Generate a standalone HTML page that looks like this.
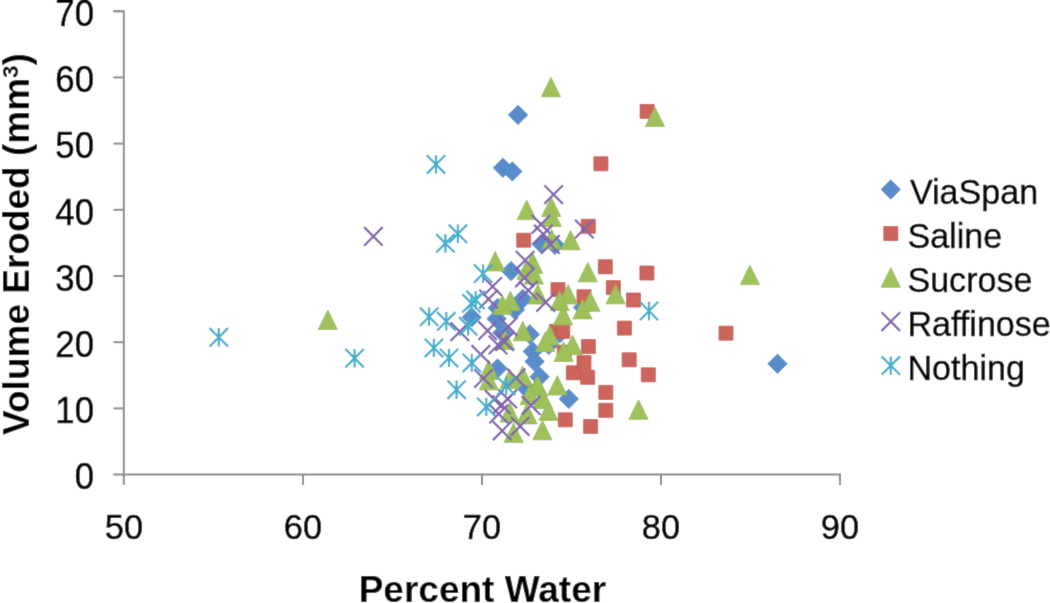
<!DOCTYPE html>
<html><head><meta charset="utf-8"><style>
html,body{margin:0;padding:0;background:#fff;}
svg{display:block;font-family:"Liberation Sans",sans-serif;}
</style></head><body>
<svg width="1050" height="603" viewBox="0 0 1050 603">
<defs><filter id="bl" x="0" y="0" width="1050" height="603" filterUnits="userSpaceOnUse"><feConvolveMatrix order="3" kernelMatrix="0.01134 0.08382 0.01134 0.08382 0.61936 0.08382 0.01134 0.08382 0.01134" edgeMode="duplicate"/></filter></defs>
<g filter="url(#bl)">
<rect width="1050" height="603" fill="#fff"/>

<g stroke="#8c8c8c" stroke-width="2" fill="none">
<path d="M113.4 11.2H123.8V485M113.4 474.6H840V485"/>
<path d="M113.4 408.4H124"/>
<path d="M113.4 342.2H124"/>
<path d="M113.4 276.0H124"/>
<path d="M113.4 209.8H124"/>
<path d="M113.4 143.6H124"/>
<path d="M113.4 77.4H124"/>
<path d="M113.4 11.2H124"/>
<path d="M303.0 474.6V485"/>
<path d="M482.0 474.6V485"/>
<path d="M661.0 474.6V485"/>
<path d="M840.0 474.6V485"/>
</g>
<g font-size="34.8" fill="#000" stroke="#000" stroke-width="0.5" text-anchor="end">
<text transform="translate(94,489.3) scale(1,1.045)">0</text>
<text transform="translate(94,423.1) scale(1,1.045)">10</text>
<text transform="translate(94,356.9) scale(1,1.045)">20</text>
<text transform="translate(94,290.7) scale(1,1.045)">30</text>
<text transform="translate(94,224.5) scale(1,1.045)">40</text>
<text transform="translate(94,158.3) scale(1,1.045)">50</text>
<text transform="translate(94,92.1) scale(1,1.045)">60</text>
<text transform="translate(94,25.9) scale(1,1.045)">70</text>
</g>
<g font-size="34.4" fill="#000" stroke="#000" stroke-width="0.5" text-anchor="middle">
<text transform="translate(124.0,539) scale(1,1.045)">50</text>
<text transform="translate(303.0,539) scale(1,1.045)">60</text>
<text transform="translate(482.0,539) scale(1,1.045)">70</text>
<text transform="translate(661.0,539) scale(1,1.045)">80</text>
<text transform="translate(840.0,539) scale(1,1.045)">90</text>
</g>
<text x="482.4" y="602" font-size="37" font-weight="bold" text-anchor="middle">Percent Water</text>
<text transform="translate(29,244) rotate(-90)" font-size="37" font-weight="bold" text-anchor="middle">Volume Eroded (mm<tspan font-size="22.5" dy="-11.5">3</tspan><tspan dy="11.5">)</tspan></text>
<path d="M518.0 105.2L527.7 114.9L518.0 124.6L508.3 114.9Z" fill="#588dca" stroke="#4a80c0" stroke-width="0.8" stroke-linejoin="round"/>
<path d="M502.9 158.0L512.6 167.7L502.9 177.4L493.2 167.7Z" fill="#588dca" stroke="#4a80c0" stroke-width="0.8" stroke-linejoin="round"/>
<path d="M512.3 161.7L522.0 171.4L512.3 181.1L502.6 171.4Z" fill="#588dca" stroke="#4a80c0" stroke-width="0.8" stroke-linejoin="round"/>
<path d="M511.1 261.4L520.8 271.1L511.1 280.8L501.4 271.1Z" fill="#588dca" stroke="#4a80c0" stroke-width="0.8" stroke-linejoin="round"/>
<path d="M541.4 234.2L551.1 243.9L541.4 253.6L531.7 243.9Z" fill="#588dca" stroke="#4a80c0" stroke-width="0.8" stroke-linejoin="round"/>
<path d="M554.9 235.2L564.6 244.9L554.9 254.6L545.2 244.9Z" fill="#588dca" stroke="#4a80c0" stroke-width="0.8" stroke-linejoin="round"/>
<path d="M777.5 354.1L787.2 363.8L777.5 373.5L767.8 363.8Z" fill="#588dca" stroke="#4a80c0" stroke-width="0.8" stroke-linejoin="round"/>
<path d="M471.7 307.6L481.4 317.3L471.7 327.0L462.0 317.3Z" fill="#588dca" stroke="#4a80c0" stroke-width="0.8" stroke-linejoin="round"/>
<path d="M496.6 309.1L506.3 318.8L496.6 328.5L486.9 318.8Z" fill="#588dca" stroke="#4a80c0" stroke-width="0.8" stroke-linejoin="round"/>
<path d="M497.6 298.2L507.3 307.9L497.6 317.6L487.9 307.9Z" fill="#588dca" stroke="#4a80c0" stroke-width="0.8" stroke-linejoin="round"/>
<path d="M502.5 323.0L512.2 332.7L502.5 342.4L492.8 332.7Z" fill="#588dca" stroke="#4a80c0" stroke-width="0.8" stroke-linejoin="round"/>
<path d="M522.8 289.2L532.5 298.9L522.8 308.6L513.1 298.9Z" fill="#588dca" stroke="#4a80c0" stroke-width="0.8" stroke-linejoin="round"/>
<path d="M514.9 300.1L524.6 309.8L514.9 319.5L505.2 309.8Z" fill="#588dca" stroke="#4a80c0" stroke-width="0.8" stroke-linejoin="round"/>
<path d="M529.8 324.7L539.5 334.4L529.8 344.1L520.1 334.4Z" fill="#588dca" stroke="#4a80c0" stroke-width="0.8" stroke-linejoin="round"/>
<path d="M532.8 341.8L542.5 351.5L532.8 361.2L523.1 351.5Z" fill="#588dca" stroke="#4a80c0" stroke-width="0.8" stroke-linejoin="round"/>
<path d="M534.6 351.8L544.3 361.5L534.6 371.2L524.9 361.5Z" fill="#588dca" stroke="#4a80c0" stroke-width="0.8" stroke-linejoin="round"/>
<path d="M548.8 335.2L558.5 344.9L548.8 354.6L539.1 344.9Z" fill="#588dca" stroke="#4a80c0" stroke-width="0.8" stroke-linejoin="round"/>
<path d="M559.8 323.5L569.5 333.2L559.8 342.9L550.1 333.2Z" fill="#588dca" stroke="#4a80c0" stroke-width="0.8" stroke-linejoin="round"/>
<path d="M497.5 358.8L507.2 368.5L497.5 378.2L487.8 368.5Z" fill="#588dca" stroke="#4a80c0" stroke-width="0.8" stroke-linejoin="round"/>
<path d="M539.6 367.1L549.3 376.8L539.6 386.5L529.9 376.8Z" fill="#588dca" stroke="#4a80c0" stroke-width="0.8" stroke-linejoin="round"/>
<path d="M527.0 379.3L536.7 389.0L527.0 398.7L517.3 389.0Z" fill="#588dca" stroke="#4a80c0" stroke-width="0.8" stroke-linejoin="round"/>
<path d="M583.0 297.8L592.7 307.5L583.0 317.2L573.3 307.5Z" fill="#588dca" stroke="#4a80c0" stroke-width="0.8" stroke-linejoin="round"/>
<path d="M568.8 389.2L578.5 398.9L568.8 408.6L559.1 398.9Z" fill="#588dca" stroke="#4a80c0" stroke-width="0.8" stroke-linejoin="round"/>
<rect x="640.1" y="104.4" width="14.0" height="14.0" fill="#cc655c" stroke="#c4554f" stroke-width="0.8" stroke-linejoin="round"/>
<rect x="593.9" y="156.8" width="14.0" height="14.0" fill="#cc655c" stroke="#c4554f" stroke-width="0.8" stroke-linejoin="round"/>
<rect x="516.7" y="233.2" width="14.0" height="14.0" fill="#cc655c" stroke="#c4554f" stroke-width="0.8" stroke-linejoin="round"/>
<rect x="581.3" y="219.3" width="14.0" height="14.0" fill="#cc655c" stroke="#c4554f" stroke-width="0.8" stroke-linejoin="round"/>
<rect x="598.3" y="259.8" width="14.0" height="14.0" fill="#cc655c" stroke="#c4554f" stroke-width="0.8" stroke-linejoin="round"/>
<rect x="719.0" y="326.2" width="14.0" height="14.0" fill="#cc655c" stroke="#c4554f" stroke-width="0.8" stroke-linejoin="round"/>
<rect x="551.0" y="282.6" width="14.0" height="14.0" fill="#cc655c" stroke="#c4554f" stroke-width="0.8" stroke-linejoin="round"/>
<rect x="577.0" y="289.7" width="14.0" height="14.0" fill="#cc655c" stroke="#c4554f" stroke-width="0.8" stroke-linejoin="round"/>
<rect x="549.4" y="324.3" width="14.0" height="14.0" fill="#cc655c" stroke="#c4554f" stroke-width="0.8" stroke-linejoin="round"/>
<rect x="555.8" y="324.3" width="14.0" height="14.0" fill="#cc655c" stroke="#c4554f" stroke-width="0.8" stroke-linejoin="round"/>
<rect x="639.9" y="266.0" width="14.0" height="14.0" fill="#cc655c" stroke="#c4554f" stroke-width="0.8" stroke-linejoin="round"/>
<rect x="606.3" y="280.6" width="14.0" height="14.0" fill="#cc655c" stroke="#c4554f" stroke-width="0.8" stroke-linejoin="round"/>
<rect x="626.5" y="293.0" width="14.0" height="14.0" fill="#cc655c" stroke="#c4554f" stroke-width="0.8" stroke-linejoin="round"/>
<rect x="617.4" y="321.1" width="14.0" height="14.0" fill="#cc655c" stroke="#c4554f" stroke-width="0.8" stroke-linejoin="round"/>
<rect x="581.4" y="339.5" width="14.0" height="14.0" fill="#cc655c" stroke="#c4554f" stroke-width="0.8" stroke-linejoin="round"/>
<rect x="566.4" y="365.8" width="14.0" height="14.0" fill="#cc655c" stroke="#c4554f" stroke-width="0.8" stroke-linejoin="round"/>
<rect x="580.7" y="370.3" width="14.0" height="14.0" fill="#cc655c" stroke="#c4554f" stroke-width="0.8" stroke-linejoin="round"/>
<rect x="557.2" y="345.3" width="14.0" height="14.0" fill="#cc655c" stroke="#c4554f" stroke-width="0.8" stroke-linejoin="round"/>
<rect x="577.0" y="355.6" width="14.0" height="14.0" fill="#cc655c" stroke="#c4554f" stroke-width="0.8" stroke-linejoin="round"/>
<rect x="622.2" y="352.8" width="14.0" height="14.0" fill="#cc655c" stroke="#c4554f" stroke-width="0.8" stroke-linejoin="round"/>
<rect x="641.3" y="367.8" width="14.0" height="14.0" fill="#cc655c" stroke="#c4554f" stroke-width="0.8" stroke-linejoin="round"/>
<rect x="598.8" y="385.4" width="14.0" height="14.0" fill="#cc655c" stroke="#c4554f" stroke-width="0.8" stroke-linejoin="round"/>
<rect x="598.8" y="403.3" width="14.0" height="14.0" fill="#cc655c" stroke="#c4554f" stroke-width="0.8" stroke-linejoin="round"/>
<rect x="558.3" y="412.8" width="14.0" height="14.0" fill="#cc655c" stroke="#c4554f" stroke-width="0.8" stroke-linejoin="round"/>
<rect x="583.6" y="419.5" width="14.0" height="14.0" fill="#cc655c" stroke="#c4554f" stroke-width="0.8" stroke-linejoin="round"/>
<path d="M550.9 77.3L560.5 96.7L541.3 96.7Z" fill="#9fc15c" stroke="#93b74f" stroke-width="0.8" stroke-linejoin="round"/>
<path d="M654.9 107.1L664.5 126.5L645.3 126.5Z" fill="#9fc15c" stroke="#93b74f" stroke-width="0.8" stroke-linejoin="round"/>
<path d="M327.8 310.1L337.4 329.5L318.2 329.5Z" fill="#9fc15c" stroke="#93b74f" stroke-width="0.8" stroke-linejoin="round"/>
<path d="M526.7 200.2L536.3 219.6L517.1 219.6Z" fill="#9fc15c" stroke="#93b74f" stroke-width="0.8" stroke-linejoin="round"/>
<path d="M551.2 197.1L560.8 216.5L541.6 216.5Z" fill="#9fc15c" stroke="#93b74f" stroke-width="0.8" stroke-linejoin="round"/>
<path d="M551.7 207.0L561.3 226.4L542.1 226.4Z" fill="#9fc15c" stroke="#93b74f" stroke-width="0.8" stroke-linejoin="round"/>
<path d="M551.5 229.4L561.1 248.8L541.9 248.8Z" fill="#9fc15c" stroke="#93b74f" stroke-width="0.8" stroke-linejoin="round"/>
<path d="M570.6 230.4L580.2 249.8L561.0 249.8Z" fill="#9fc15c" stroke="#93b74f" stroke-width="0.8" stroke-linejoin="round"/>
<path d="M495.2 251.5L504.8 270.9L485.6 270.9Z" fill="#9fc15c" stroke="#93b74f" stroke-width="0.8" stroke-linejoin="round"/>
<path d="M533.0 254.0L542.6 273.4L523.4 273.4Z" fill="#9fc15c" stroke="#93b74f" stroke-width="0.8" stroke-linejoin="round"/>
<path d="M526.6 260.0L536.2 279.4L517.0 279.4Z" fill="#9fc15c" stroke="#93b74f" stroke-width="0.8" stroke-linejoin="round"/>
<path d="M587.8 262.4L597.4 281.8L578.2 281.8Z" fill="#9fc15c" stroke="#93b74f" stroke-width="0.8" stroke-linejoin="round"/>
<path d="M532.5 253.0L542.1 272.4L522.9 272.4Z" fill="#9fc15c" stroke="#93b74f" stroke-width="0.8" stroke-linejoin="round"/>
<path d="M749.9 265.2L759.5 284.6L740.3 284.6Z" fill="#9fc15c" stroke="#93b74f" stroke-width="0.8" stroke-linejoin="round"/>
<path d="M510.4 291.2L520.0 310.6L500.8 310.6Z" fill="#9fc15c" stroke="#93b74f" stroke-width="0.8" stroke-linejoin="round"/>
<path d="M502.4 295.0L512.0 314.4L492.8 314.4Z" fill="#9fc15c" stroke="#93b74f" stroke-width="0.8" stroke-linejoin="round"/>
<path d="M537.8 284.6L547.4 304.0L528.2 304.0Z" fill="#9fc15c" stroke="#93b74f" stroke-width="0.8" stroke-linejoin="round"/>
<path d="M533.8 264.7L543.4 284.1L524.2 284.1Z" fill="#9fc15c" stroke="#93b74f" stroke-width="0.8" stroke-linejoin="round"/>
<path d="M568.1 284.6L577.7 304.0L558.5 304.0Z" fill="#9fc15c" stroke="#93b74f" stroke-width="0.8" stroke-linejoin="round"/>
<path d="M559.7 291.0L569.3 310.4L550.1 310.4Z" fill="#9fc15c" stroke="#93b74f" stroke-width="0.8" stroke-linejoin="round"/>
<path d="M563.1 305.5L572.7 324.9L553.5 324.9Z" fill="#9fc15c" stroke="#93b74f" stroke-width="0.8" stroke-linejoin="round"/>
<path d="M582.5 299.5L592.1 318.9L572.9 318.9Z" fill="#9fc15c" stroke="#93b74f" stroke-width="0.8" stroke-linejoin="round"/>
<path d="M522.8 321.4L532.4 340.8L513.2 340.8Z" fill="#9fc15c" stroke="#93b74f" stroke-width="0.8" stroke-linejoin="round"/>
<path d="M615.6 284.4L625.2 303.8L606.0 303.8Z" fill="#9fc15c" stroke="#93b74f" stroke-width="0.8" stroke-linejoin="round"/>
<path d="M590.4 291.9L600.0 311.3L580.8 311.3Z" fill="#9fc15c" stroke="#93b74f" stroke-width="0.8" stroke-linejoin="round"/>
<path d="M549.7 325.6L559.3 345.0L540.1 345.0Z" fill="#9fc15c" stroke="#93b74f" stroke-width="0.8" stroke-linejoin="round"/>
<path d="M545.2 332.1L554.8 351.5L535.6 351.5Z" fill="#9fc15c" stroke="#93b74f" stroke-width="0.8" stroke-linejoin="round"/>
<path d="M572.6 335.1L582.2 354.5L563.0 354.5Z" fill="#9fc15c" stroke="#93b74f" stroke-width="0.8" stroke-linejoin="round"/>
<path d="M563.6 342.0L573.2 361.4L554.0 361.4Z" fill="#9fc15c" stroke="#93b74f" stroke-width="0.8" stroke-linejoin="round"/>
<path d="M504.9 330.1L514.5 349.5L495.3 349.5Z" fill="#9fc15c" stroke="#93b74f" stroke-width="0.8" stroke-linejoin="round"/>
<path d="M522.6 366.0L532.2 385.4L513.0 385.4Z" fill="#9fc15c" stroke="#93b74f" stroke-width="0.8" stroke-linejoin="round"/>
<path d="M509.7 369.0L519.3 388.4L500.1 388.4Z" fill="#9fc15c" stroke="#93b74f" stroke-width="0.8" stroke-linejoin="round"/>
<path d="M488.8 360.0L498.4 379.4L479.2 379.4Z" fill="#9fc15c" stroke="#93b74f" stroke-width="0.8" stroke-linejoin="round"/>
<path d="M488.8 370.5L498.4 389.9L479.2 389.9Z" fill="#9fc15c" stroke="#93b74f" stroke-width="0.8" stroke-linejoin="round"/>
<path d="M536.5 376.9L546.1 396.3L526.9 396.3Z" fill="#9fc15c" stroke="#93b74f" stroke-width="0.8" stroke-linejoin="round"/>
<path d="M557.3 375.6L566.9 395.0L547.7 395.0Z" fill="#9fc15c" stroke="#93b74f" stroke-width="0.8" stroke-linejoin="round"/>
<path d="M537.9 376.6L547.5 396.0L528.3 396.0Z" fill="#9fc15c" stroke="#93b74f" stroke-width="0.8" stroke-linejoin="round"/>
<path d="M542.9 389.1L552.5 408.5L533.3 408.5Z" fill="#9fc15c" stroke="#93b74f" stroke-width="0.8" stroke-linejoin="round"/>
<path d="M548.4 401.0L558.0 420.4L538.8 420.4Z" fill="#9fc15c" stroke="#93b74f" stroke-width="0.8" stroke-linejoin="round"/>
<path d="M542.4 420.4L552.0 439.8L532.8 439.8Z" fill="#9fc15c" stroke="#93b74f" stroke-width="0.8" stroke-linejoin="round"/>
<path d="M527.5 404.5L537.1 423.9L517.9 423.9Z" fill="#9fc15c" stroke="#93b74f" stroke-width="0.8" stroke-linejoin="round"/>
<path d="M509.7 402.6L519.3 422.0L500.1 422.0Z" fill="#9fc15c" stroke="#93b74f" stroke-width="0.8" stroke-linejoin="round"/>
<path d="M513.6 423.0L523.2 442.4L504.0 442.4Z" fill="#9fc15c" stroke="#93b74f" stroke-width="0.8" stroke-linejoin="round"/>
<path d="M526.6 404.1L536.2 423.5L517.0 423.5Z" fill="#9fc15c" stroke="#93b74f" stroke-width="0.8" stroke-linejoin="round"/>
<path d="M529.6 385.2L539.2 404.6L520.0 404.6Z" fill="#9fc15c" stroke="#93b74f" stroke-width="0.8" stroke-linejoin="round"/>
<path d="M638.5 399.9L648.1 419.3L628.9 419.3Z" fill="#9fc15c" stroke="#93b74f" stroke-width="0.8" stroke-linejoin="round"/>
<path d="M364.1 227.1L382.7 245.7M382.7 227.1L364.1 245.7" stroke="#8262b0" stroke-width="2.2" fill="none"/>
<path d="M544.3 185.3L562.9 203.9M562.9 185.3L544.3 203.9" stroke="#8262b0" stroke-width="2.2" fill="none"/>
<path d="M531.7 215.0L550.3 233.6M550.3 215.0L531.7 233.6" stroke="#8262b0" stroke-width="2.2" fill="none"/>
<path d="M534.1 224.9L552.7 243.5M552.7 224.9L534.1 243.5" stroke="#8262b0" stroke-width="2.2" fill="none"/>
<path d="M541.1 235.1L559.7 253.7M559.7 235.1L541.1 253.7" stroke="#8262b0" stroke-width="2.2" fill="none"/>
<path d="M575.0 219.7L593.6 238.3M593.6 219.7L575.0 238.3" stroke="#8262b0" stroke-width="2.2" fill="none"/>
<path d="M515.8 251.0L534.4 269.6M534.4 251.0L515.8 269.6" stroke="#8262b0" stroke-width="2.2" fill="none"/>
<path d="M515.3 268.5L533.9 287.1M533.9 268.5L515.3 287.1" stroke="#8262b0" stroke-width="2.2" fill="none"/>
<path d="M483.3 277.2L501.9 295.8M501.9 277.2L483.3 295.8" stroke="#8262b0" stroke-width="2.2" fill="none"/>
<path d="M479.3 289.8L497.9 308.4M497.9 289.8L479.3 308.4" stroke="#8262b0" stroke-width="2.2" fill="none"/>
<path d="M450.5 322.4L469.1 341.0M469.1 322.4L450.5 341.0" stroke="#8262b0" stroke-width="2.2" fill="none"/>
<path d="M478.3 321.4L496.9 340.0M496.9 321.4L478.3 340.0" stroke="#8262b0" stroke-width="2.2" fill="none"/>
<path d="M498.9 317.3L517.5 335.9M517.5 317.3L498.9 335.9" stroke="#8262b0" stroke-width="2.2" fill="none"/>
<path d="M519.0 281.1L537.6 299.7M537.6 281.1L519.0 299.7" stroke="#8262b0" stroke-width="2.2" fill="none"/>
<path d="M536.4 293.0L555.0 311.6M555.0 293.0L536.4 311.6" stroke="#8262b0" stroke-width="2.2" fill="none"/>
<path d="M495.3 332.3L513.9 350.9M513.9 332.3L495.3 350.9" stroke="#8262b0" stroke-width="2.2" fill="none"/>
<path d="M471.5 345.1L490.1 363.7M490.1 345.1L471.5 363.7" stroke="#8262b0" stroke-width="2.2" fill="none"/>
<path d="M488.7 335.7L507.3 354.3M507.3 335.7L488.7 354.3" stroke="#8262b0" stroke-width="2.2" fill="none"/>
<path d="M474.2 369.2L492.8 387.8M492.8 369.2L474.2 387.8" stroke="#8262b0" stroke-width="2.2" fill="none"/>
<path d="M506.8 368.5L525.4 387.1M525.4 368.5L506.8 387.1" stroke="#8262b0" stroke-width="2.2" fill="none"/>
<path d="M484.9 390.1L503.5 408.7M503.5 390.1L484.9 408.7" stroke="#8262b0" stroke-width="2.2" fill="none"/>
<path d="M492.4 395.6L511.0 414.2M511.0 395.6L492.4 414.2" stroke="#8262b0" stroke-width="2.2" fill="none"/>
<path d="M489.4 404.6L508.0 423.2M508.0 404.6L489.4 423.2" stroke="#8262b0" stroke-width="2.2" fill="none"/>
<path d="M492.9 421.5L511.5 440.1M511.5 421.5L492.9 440.1" stroke="#8262b0" stroke-width="2.2" fill="none"/>
<path d="M510.8 417.0L529.4 435.6M529.4 417.0L510.8 435.6" stroke="#8262b0" stroke-width="2.2" fill="none"/>
<path d="M521.7 396.1L540.3 414.7M540.3 396.1L521.7 414.7" stroke="#8262b0" stroke-width="2.2" fill="none"/>
<path d="M498.4 389.6L517.0 408.2M517.0 389.6L498.4 408.2" stroke="#8262b0" stroke-width="2.2" fill="none"/>
<path d="M209.6 328.1L228.0 346.5M228.0 328.1L209.6 346.5M218.8 328.1L218.8 346.5" stroke="#42afcf" stroke-width="2.2" fill="none"/>
<path d="M345.4 349.0L363.8 367.4M363.8 349.0L345.4 367.4M354.6 349.0L354.6 367.4" stroke="#42afcf" stroke-width="2.2" fill="none"/>
<path d="M426.8 155.2L445.2 173.6M445.2 155.2L426.8 173.6M436.0 155.2L436.0 173.6" stroke="#42afcf" stroke-width="2.2" fill="none"/>
<path d="M436.2 234.1L454.6 252.5M454.6 234.1L436.2 252.5M445.4 234.1L445.4 252.5" stroke="#42afcf" stroke-width="2.2" fill="none"/>
<path d="M448.7 224.6L467.1 243.0M467.1 224.6L448.7 243.0M457.9 224.6L457.9 243.0" stroke="#42afcf" stroke-width="2.2" fill="none"/>
<path d="M473.9 264.4L492.3 282.8M492.3 264.4L473.9 282.8M483.1 264.4L483.1 282.8" stroke="#42afcf" stroke-width="2.2" fill="none"/>
<path d="M419.9 307.6L438.3 326.0M438.3 307.6L419.9 326.0M429.1 307.6L429.1 326.0" stroke="#42afcf" stroke-width="2.2" fill="none"/>
<path d="M437.1 312.1L455.5 330.5M455.5 312.1L437.1 330.5M446.3 312.1L446.3 330.5" stroke="#42afcf" stroke-width="2.2" fill="none"/>
<path d="M462.3 294.1L480.7 312.5M480.7 294.1L462.3 312.5M471.5 294.1L471.5 312.5" stroke="#42afcf" stroke-width="2.2" fill="none"/>
<path d="M466.5 290.9L484.9 309.3M484.9 290.9L466.5 309.3M475.7 290.9L475.7 309.3" stroke="#42afcf" stroke-width="2.2" fill="none"/>
<path d="M459.0 317.1L477.4 335.5M477.4 317.1L459.0 335.5M468.2 317.1L468.2 335.5" stroke="#42afcf" stroke-width="2.2" fill="none"/>
<path d="M639.8 301.8L658.2 320.2M658.2 301.8L639.8 320.2M649.0 301.8L649.0 320.2" stroke="#42afcf" stroke-width="2.2" fill="none"/>
<path d="M439.8 348.7L458.2 367.1M458.2 348.7L439.8 367.1M449.0 348.7L449.0 367.1" stroke="#42afcf" stroke-width="2.2" fill="none"/>
<path d="M424.7 338.7L443.1 357.1M443.1 338.7L424.7 357.1M433.9 338.7L433.9 357.1" stroke="#42afcf" stroke-width="2.2" fill="none"/>
<path d="M462.6 353.7L481.0 372.1M481.0 353.7L462.6 372.1M471.8 353.7L471.8 372.1" stroke="#42afcf" stroke-width="2.2" fill="none"/>
<path d="M447.4 380.5L465.8 398.9M465.8 380.5L447.4 398.9M456.6 380.5L456.6 398.9" stroke="#42afcf" stroke-width="2.2" fill="none"/>
<path d="M497.0 376.8L515.4 395.2M515.4 376.8L497.0 395.2M506.2 376.8L506.2 395.2" stroke="#42afcf" stroke-width="2.2" fill="none"/>
<path d="M477.1 397.7L495.5 416.1M495.5 397.7L477.1 416.1M486.3 397.7L486.3 416.1" stroke="#42afcf" stroke-width="2.2" fill="none"/>
<path d="M890.8 179.8L900.5 189.5L890.8 199.2L881.1 189.5Z" fill="#588dca" stroke="#4a80c0" stroke-width="0.8" stroke-linejoin="round"/>
<text transform="translate(909.9,203.8) scale(1,1.05)" font-size="34.1" stroke="#000" stroke-width="0.4">ViaSpan</text>
<rect x="883.8" y="226.5" width="14.0" height="14.0" fill="#cc655c" stroke="#c4554f" stroke-width="0.8" stroke-linejoin="round"/>
<text transform="translate(907.4,247.8) scale(1,1.05)" font-size="34.1" stroke="#000" stroke-width="0.4">Saline</text>
<path d="M890.8 267.8L900.4 287.2L881.2 287.2Z" fill="#9fc15c" stroke="#93b74f" stroke-width="0.8" stroke-linejoin="round"/>
<text transform="translate(907.4,291.9) scale(1,1.05)" font-size="34.1" stroke="#000" stroke-width="0.4">Sucrose</text>
<path d="M881.5 312.3L900.1 330.9M900.1 312.3L881.5 330.9" stroke="#8262b0" stroke-width="2.2" fill="none"/>
<text transform="translate(907.4,335.9) scale(1,1.05)" font-size="34.1" stroke="#000" stroke-width="0.4">Raffinose</text>
<path d="M881.6 356.4L900.0 374.8M900.0 356.4L881.6 374.8M890.8 356.4L890.8 374.8" stroke="#42afcf" stroke-width="2.2" fill="none"/>
<text transform="translate(907.4,379.9) scale(1,1.05)" font-size="34.1" stroke="#000" stroke-width="0.4">Nothing</text>
</g></svg></body></html>
